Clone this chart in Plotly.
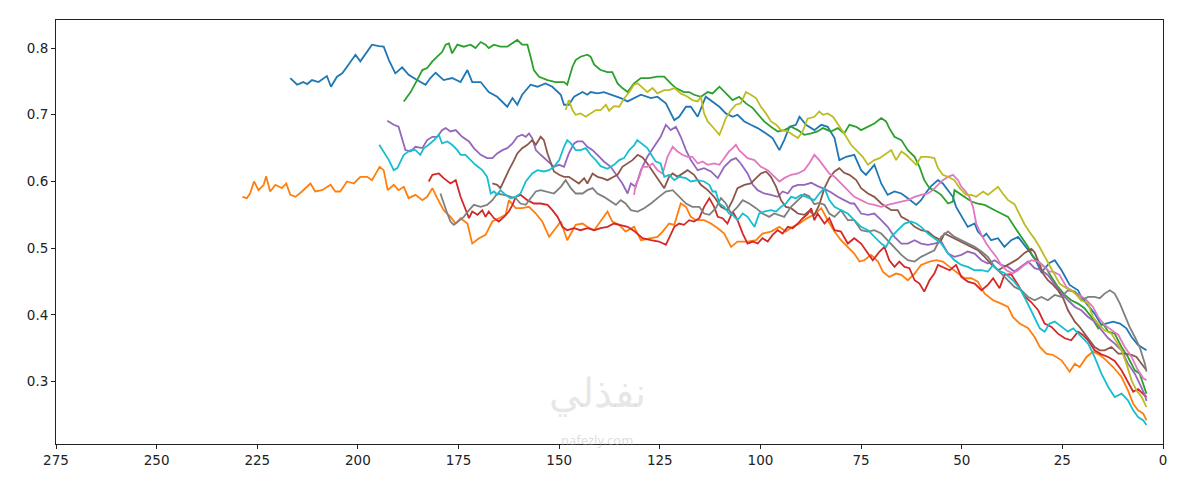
import plotly.graph_objects as go

# ---------------- data ----------------
blue_x = [216.8,215.1,213.6,212.6,211.4,209.8,207.7,206.7,205.2,203.9,
          202.7,200.6,199.4,198.1,196.5,194.8,193.6,192.3,190.7,189.0,
          187.4,185.3,183.2,182.0,180.7,178.7,176.6,174.5,172.8,171.6,
          169.5,167.5,165.4,162.9,161.6,160.4,159.2,157.1,155.4,153.4,
          151.7,149.6,148.8,147.6,146.3,144.2,143.0,142.2,140.5,138.9,
          136.8,134.7,133.0,131.4,129.7,127.2,125.6,123.5,121.4,120.2,
          118.5,117.3,115.6,113.6,111.9,110.2,108.6,106.9,105.7,104.0,
          102.4,100.7,98.6,97.0,95.3,94.1,92.8,91.2,90.3,88.7,
          86.6,84.9,83.3,81.6,80.4,78.7,76.7,75.0,73.8,71.7,
          70.0,68.4,66.7,65.0,63.4,61.3,60.1,58.8,57.6,55.9,
          54.7,53.4,52.2,51.4,50.5,48.5,46.8,46.0,44.7,43.9,
          42.7,41.0,39.4,37.7,36.0,33.5,31.9,30.2,28.2,26.9,
          25.2,23.2,21.1,20.3,18.6,17.0,15.3,14.1,12.4,10.7,
          9.1,7.8,6.2,4.1]
blue_y = [0.755,0.745,0.749,0.746,0.752,0.749,0.758,0.742,0.757,0.762,
          0.772,0.790,0.780,0.792,0.805,0.803,0.802,0.782,0.762,0.771,
          0.760,0.752,0.745,0.755,0.763,0.752,0.755,0.749,0.767,0.749,
          0.749,0.734,0.727,0.712,0.725,0.715,0.730,0.745,0.742,0.747,
          0.742,0.730,0.715,0.715,0.727,0.734,0.730,0.734,0.732,0.734,
          0.730,0.725,0.720,0.725,0.730,0.725,0.727,0.717,0.692,0.697,
          0.712,0.712,0.697,0.727,0.720,0.712,0.702,0.697,0.700,0.690,
          0.685,0.680,0.672,0.665,0.647,0.662,0.682,0.685,0.697,0.685,
          0.677,0.685,0.682,0.665,0.632,0.637,0.640,0.617,0.610,0.625,
          0.597,0.580,0.585,0.582,0.575,0.565,0.572,0.584,0.593,0.602,
          0.597,0.587,0.577,0.562,0.552,0.532,0.537,0.525,0.517,0.522,
          0.512,0.515,0.502,0.512,0.517,0.497,0.485,0.464,0.478,0.482,
          0.467,0.445,0.437,0.427,0.415,0.402,0.385,0.387,0.390,0.387,
          0.380,0.367,0.355,0.347]

orange_x = [228.7,227.6,226.8,225.8,224.7,223.4,222.8,221.8,220.5,218.9,
            217.8,216.8,215.5,213.9,211.8,210.6,208.9,206.8,205.6,204.4,
            202.7,201.0,199.4,197.7,196.5,194.6,193.6,192.6,191.1,189.9,
            188.6,187.4,185.7,184.0,182.8,181.5,180.3,178.7,177.0,175.7,
            174.5,172.8,171.6,169.9,168.3,166.6,165.0,163.3,162.5,160.8,
            159.2,157.5,155.8,154.2,152.5,151.3,149.6,148.0,145.9,144.2,
            143.0,141.3,139.7,138.0,136.8,135.1,133.5,131.4,129.7,127.7,
            125.6,124.3,122.7,121.4,119.8,118.5,117.3,116.0,114.0,112.3,
            110.6,109.0,107.3,105.7,103.2,101.1,99.5,97.4,95.3,93.7,
            92.0,90.3,88.7,86.6,84.9,83.3,81.6,80.0,78.3,76.7,
            75.4,74.2,72.5,70.8,69.6,68.0,66.3,65.0,63.4,61.7,
            60.1,58.0,56.3,54.7,53.0,50.9,49.3,47.6,46.0,44.3,
            42.2,40.2,38.5,37.3,35.6,33.5,31.9,30.6,29.0,27.3,
            25.2,23.2,21.9,20.7,19.0,17.4,15.7,14.1,12.4,10.3,
            8.7,7.4,6.2,4.9,4.1]
orange_y = [0.577,0.575,0.582,0.600,0.587,0.595,0.608,0.585,0.595,0.590,
            0.597,0.580,0.577,0.585,0.597,0.585,0.587,0.595,0.585,0.585,
            0.600,0.597,0.607,0.607,0.602,0.622,0.617,0.587,0.595,0.587,
            0.592,0.575,0.580,0.572,0.577,0.590,0.575,0.557,0.547,0.537,
            0.545,0.537,0.507,0.515,0.520,0.540,0.545,0.550,0.572,0.560,
            0.560,0.562,0.552,0.540,0.517,0.527,0.540,0.512,0.535,0.537,
            0.532,0.527,0.540,0.555,0.540,0.535,0.525,0.532,0.512,0.515,
            0.517,0.525,0.537,0.535,0.567,0.562,0.547,0.542,0.542,0.537,
            0.530,0.522,0.502,0.510,0.510,0.512,0.522,0.525,0.532,0.525,
            0.532,0.537,0.544,0.551,0.560,0.542,0.525,0.512,0.502,0.492,
            0.480,0.482,0.490,0.480,0.465,0.457,0.462,0.460,0.452,0.462,
            0.475,0.480,0.482,0.480,0.472,0.462,0.455,0.455,0.450,0.432,
            0.422,0.417,0.412,0.397,0.387,0.380,0.367,0.352,0.342,0.340,
            0.332,0.315,0.327,0.322,0.337,0.345,0.340,0.332,0.322,0.307,
            0.287,0.267,0.257,0.252,0.242]

green_x = [188.6,186.9,185.3,184.0,182.8,181.5,180.3,179.1,178.2,177.4,
           176.6,175.3,173.7,172.0,170.8,169.5,168.3,167.5,166.2,164.6,
           162.9,161.6,160.4,159.2,157.9,157.1,156.3,155.0,152.9,150.9,
           148.8,148.0,146.7,145.9,144.7,143.0,142.2,141.3,139.7,138.0,
           136.8,135.5,134.3,133.0,131.4,129.7,127.7,125.6,123.9,122.3,
           121.0,119.0,117.7,116.5,114.8,113.1,111.9,110.2,108.6,106.9,
           105.3,103.6,101.9,100.7,99.1,97.4,95.7,94.1,92.4,90.7,
           89.1,87.4,85.8,84.5,82.5,80.8,79.2,77.9,76.2,75.0,
           73.3,71.7,70.0,68.8,68.0,66.7,65.0,63.4,61.7,60.5,
           59.3,58.0,56.3,55.1,53.4,52.2,51.8,50.5,49.3,47.6,
           46.0,44.3,41.8,40.2,38.5,36.9,35.2,33.5,32.3,30.6,
           29.0,27.7,26.1,24.4,22.8,21.1,19.5,17.8,16.1,14.9,
           13.6,12.0,10.3,8.7,7.0,5.8,4.1]
green_y = [0.720,0.734,0.752,0.767,0.770,0.780,0.787,0.794,0.805,0.807,
           0.792,0.805,0.802,0.805,0.800,0.809,0.805,0.800,0.805,0.802,
           0.802,0.807,0.812,0.805,0.805,0.787,0.767,0.757,0.752,0.749,
           0.749,0.745,0.772,0.782,0.787,0.790,0.787,0.775,0.767,0.764,
           0.764,0.747,0.740,0.734,0.747,0.755,0.755,0.757,0.757,0.747,
           0.740,0.734,0.734,0.730,0.727,0.734,0.732,0.742,0.732,0.722,
           0.727,0.717,0.710,0.702,0.690,0.682,0.675,0.677,0.682,0.677,
           0.670,0.672,0.675,0.680,0.675,0.680,0.672,0.685,0.682,0.677,
           0.682,0.687,0.695,0.690,0.680,0.667,0.662,0.647,0.637,0.622,
           0.602,0.590,0.585,0.580,0.567,0.570,0.587,0.582,0.577,0.570,
           0.567,0.565,0.557,0.552,0.547,0.532,0.517,0.502,0.487,0.478,
           0.470,0.457,0.442,0.430,0.422,0.417,0.410,0.397,0.380,0.387,
           0.375,0.372,0.352,0.337,0.317,0.312,0.282]

red_x = [182.4,181.5,179.9,178.7,177.0,175.7,174.5,173.3,172.4,171.6,
         170.3,169.1,168.3,167.5,166.2,165.0,163.7,162.5,161.6,160.8,
         159.6,157.9,156.3,154.6,152.9,151.7,150.4,149.2,148.0,146.3,
         144.7,143.0,141.3,139.7,138.0,136.4,134.7,133.0,131.4,129.3,
         127.2,125.2,123.5,122.3,121.4,120.2,119.0,117.7,116.5,115.2,
         114.0,112.7,111.5,110.6,109.4,108.2,106.9,105.7,104.4,103.2,
         101.9,100.7,99.5,98.2,97.0,95.7,94.5,93.2,92.0,90.7,
         89.5,88.3,87.4,86.6,85.8,84.1,82.9,81.6,80.0,78.3,
         76.7,75.0,73.3,72.1,70.4,69.2,68.0,66.7,65.5,64.2,
         63.0,61.7,60.5,59.3,58.0,56.8,55.9,54.7,53.0,51.4,
         50.1,48.5,46.8,45.1,43.5,42.2,40.6,39.4,37.7,36.0,
         34.4,32.7,31.0,29.4,27.7,26.1,24.4,22.8,21.1,19.9,
         18.6,17.0,15.3,13.6,12.0,10.3,8.7,7.4,6.2,4.9,4.1]
red_y = [0.600,0.610,0.612,0.605,0.597,0.602,0.577,0.557,0.545,0.555,
         0.550,0.557,0.547,0.555,0.545,0.540,0.547,0.555,0.565,0.577,
         0.580,0.572,0.567,0.567,0.565,0.557,0.547,0.532,0.527,0.530,
         0.527,0.530,0.527,0.530,0.532,0.537,0.535,0.532,0.526,0.515,
         0.512,0.510,0.505,0.520,0.532,0.537,0.535,0.542,0.540,0.545,
         0.562,0.575,0.562,0.547,0.545,0.537,0.555,0.542,0.522,0.507,
         0.510,0.507,0.515,0.510,0.520,0.527,0.522,0.532,0.530,0.537,
         0.545,0.551,0.560,0.542,0.552,0.537,0.545,0.527,0.525,0.507,
         0.515,0.507,0.492,0.482,0.495,0.502,0.482,0.472,0.480,0.472,
         0.470,0.452,0.447,0.435,0.452,0.462,0.475,0.472,0.467,0.475,
         0.457,0.450,0.447,0.437,0.445,0.455,0.440,0.460,0.461,0.445,
         0.428,0.419,0.407,0.387,0.382,0.372,0.365,0.362,0.375,0.370,
         0.362,0.347,0.341,0.337,0.331,0.317,0.299,0.285,0.289,0.282,0.277]

purple_x = [192.7,191.1,189.9,189.0,188.2,186.9,185.7,184.0,182.8,181.5,
            180.3,179.1,178.2,177.0,175.7,174.1,172.4,171.2,169.5,167.9,
            166.6,165.4,164.1,162.9,161.6,160.4,159.2,158.3,157.5,156.7,
            155.8,154.6,152.9,151.3,150.0,148.8,147.6,146.3,145.5,144.2,
            143.0,141.7,140.5,138.9,137.2,135.5,134.3,133.0,132.2,131.0,
            129.7,128.1,126.4,124.8,123.5,122.3,121.0,119.8,118.5,117.3,
            115.6,114.0,112.3,110.6,109.0,107.3,106.1,104.9,103.2,101.9,
            100.7,99.1,97.4,95.7,94.5,93.2,92.0,90.7,89.1,87.4,
            85.8,84.1,82.5,80.8,79.2,77.5,76.7,75.0,73.3,71.7,
            70.0,68.4,66.7,65.0,63.4,61.7,60.1,58.4,56.8,55.1,
            53.4,51.8,50.1,48.5,46.8,45.1,43.5,41.8,40.2,38.5,
            36.9,35.2,33.5,31.9,30.2,28.6,26.9,25.2,23.6,21.9,
            20.3,18.6,17.0,15.3,13.6,12.0,10.3,8.7,7.0,5.8,4.5,4.1]
purple_y = [0.691,0.685,0.682,0.665,0.647,0.645,0.652,0.650,0.662,0.667,
            0.667,0.677,0.680,0.675,0.677,0.667,0.660,0.650,0.640,0.635,
            0.635,0.642,0.647,0.650,0.657,0.667,0.670,0.667,0.672,0.665,
            0.647,0.640,0.630,0.622,0.625,0.622,0.642,0.657,0.660,0.660,
            0.652,0.647,0.640,0.630,0.622,0.607,0.597,0.582,0.597,0.592,
            0.617,0.637,0.652,0.667,0.685,0.677,0.682,0.667,0.647,0.632,
            0.617,0.620,0.615,0.605,0.622,0.632,0.635,0.627,0.612,0.595,
            0.587,0.582,0.580,0.577,0.585,0.582,0.592,0.595,0.595,0.598,
            0.593,0.589,0.584,0.577,0.572,0.567,0.567,0.552,0.550,0.552,
            0.542,0.532,0.517,0.507,0.507,0.512,0.507,0.505,0.507,0.510,
            0.492,0.487,0.490,0.495,0.492,0.482,0.477,0.482,0.475,0.472,
            0.465,0.472,0.480,0.470,0.467,0.460,0.445,0.432,0.422,0.412,
            0.407,0.397,0.390,0.377,0.365,0.357,0.347,0.327,0.312,0.297,0.280,0.271]

brown_x = [166.6,165.4,164.6,163.7,162.5,161.2,160.4,159.2,157.9,156.7,
           155.8,154.6,153.8,152.9,152.1,151.3,150.0,148.8,147.6,146.3,
           145.1,143.8,143.0,141.7,140.5,139.3,138.0,136.8,135.5,134.3,
           133.0,131.8,130.5,129.3,128.1,126.4,125.2,123.9,122.7,121.8,
           120.6,119.4,118.1,116.5,114.8,113.1,111.5,109.8,108.2,106.9,
           105.7,104.0,102.4,101.1,99.9,98.6,97.4,96.1,94.9,93.7,
           92.4,90.7,89.1,87.9,86.6,85.4,84.1,82.9,81.6,80.4,
           79.2,77.9,76.2,75.0,73.3,71.7,70.0,68.8,67.5,65.9,
           65.0,63.4,61.7,60.1,58.4,56.8,55.1,54.3,52.6,50.9,
           49.3,47.6,46.0,44.3,42.7,41.0,39.4,37.7,36.0,34.4,
           32.7,31.9,30.6,29.8,28.6,27.3,26.1,24.8,23.6,21.9,
           20.7,19.5,18.2,17.0,15.7,14.5,12.8,11.1,9.5,7.8,6.6,5.3,4.1]
brown_y = [0.597,0.595,0.590,0.602,0.617,0.632,0.642,0.650,0.655,0.662,
           0.655,0.667,0.662,0.642,0.627,0.615,0.610,0.607,0.607,0.602,
           0.597,0.605,0.597,0.612,0.607,0.605,0.602,0.606,0.610,0.622,
           0.627,0.632,0.640,0.636,0.627,0.612,0.600,0.590,0.607,0.612,
           0.607,0.612,0.617,0.610,0.595,0.587,0.577,0.562,0.557,0.572,
           0.590,0.595,0.597,0.605,0.612,0.615,0.607,0.592,0.572,0.562,
           0.560,0.552,0.550,0.556,0.550,0.565,0.590,0.605,0.615,0.620,
           0.613,0.610,0.602,0.590,0.582,0.577,0.567,0.562,0.557,0.557,
           0.547,0.542,0.532,0.527,0.525,0.517,0.512,0.522,0.517,0.512,
           0.507,0.502,0.497,0.487,0.476,0.467,0.472,0.478,0.484,0.493,
           0.499,0.494,0.475,0.462,0.452,0.445,0.437,0.425,0.407,0.390,
           0.382,0.372,0.362,0.352,0.347,0.347,0.352,0.342,0.342,0.340,0.337,0.327,0.317]

pink_x = [131.4,131.0,130.1,129.3,128.1,126.8,125.6,124.3,123.1,121.8,
          120.6,119.4,118.1,116.9,115.6,114.4,113.1,111.5,110.2,109.0,
          107.8,106.9,106.1,105.3,104.4,103.2,101.5,99.9,98.2,96.6,
          95.3,94.1,92.4,90.7,89.1,87.9,86.6,85.4,84.1,82.9,
          81.6,80.0,78.3,76.7,75.0,73.3,71.7,70.0,68.4,66.7,
          65.0,63.4,61.7,60.1,58.4,57.2,55.9,54.7,53.4,52.2,
          50.9,50.1,49.3,48.1,47.2,46.4,45.1,43.9,42.7,41.4,
          40.2,38.9,37.3,36.0,34.4,32.7,31.0,29.4,28.2,27.3,
          25.7,24.0,22.3,20.7,19.0,17.4,16.1,14.5,12.8,11.1,9.5,7.8,6.2,4.9,4.1]
pink_y = [0.580,0.595,0.607,0.622,0.622,0.627,0.617,0.612,0.637,0.652,
          0.645,0.640,0.637,0.637,0.627,0.630,0.625,0.627,0.625,0.635,
          0.645,0.650,0.655,0.647,0.642,0.635,0.632,0.622,0.617,0.607,
          0.600,0.605,0.610,0.612,0.617,0.627,0.640,0.632,0.622,0.612,
          0.607,0.597,0.587,0.577,0.572,0.567,0.565,0.562,0.565,0.567,
          0.570,0.572,0.577,0.580,0.582,0.587,0.595,0.602,0.607,0.610,
          0.602,0.592,0.587,0.577,0.562,0.537,0.520,0.507,0.497,0.487,
          0.475,0.467,0.462,0.467,0.475,0.482,0.480,0.472,0.465,0.465,
          0.460,0.442,0.435,0.430,0.422,0.412,0.397,0.385,0.377,0.370,0.352,0.337,0.317,0.305,0.302]

gray_x = [179.5,178.7,177.8,177.0,176.2,174.9,173.7,172.4,171.2,169.5,
          167.9,166.6,165.4,163.7,162.1,160.8,159.6,158.3,157.1,155.8,
          154.6,152.9,151.3,149.6,148.4,147.1,145.9,144.2,143.0,141.7,
          140.5,138.9,137.6,135.9,134.7,133.5,132.2,130.5,128.9,127.2,
          125.2,123.5,121.8,120.2,118.5,116.9,115.2,114.0,112.7,111.1,
          109.8,108.6,107.3,105.7,104.4,102.8,101.1,99.5,97.8,96.6,
          95.3,94.1,92.4,90.7,89.1,87.9,86.6,85.4,84.1,82.9,
          81.6,80.0,78.3,76.7,75.0,73.3,71.7,70.0,68.4,66.7,
          65.0,63.4,61.7,60.1,58.4,56.8,55.1,53.4,51.8,50.1,
          48.5,46.8,45.1,43.5,41.8,40.2,38.5,36.9,35.2,33.5,
          31.9,30.2,28.6,26.9,25.2,23.6,21.9,20.3,18.6,17.0,
          15.7,14.5,13.2,12.0,10.7,9.5,8.3,7.0,5.8,4.5,4.1]
gray_y = [0.582,0.567,0.552,0.540,0.535,0.541,0.547,0.557,0.565,0.562,
          0.565,0.572,0.582,0.580,0.577,0.575,0.567,0.565,0.575,0.585,
          0.587,0.585,0.582,0.592,0.602,0.590,0.582,0.582,0.587,0.590,
          0.582,0.577,0.572,0.565,0.572,0.567,0.557,0.555,0.560,0.567,
          0.577,0.585,0.587,0.577,0.567,0.562,0.562,0.552,0.550,0.560,
          0.575,0.567,0.552,0.562,0.572,0.567,0.560,0.552,0.547,0.552,
          0.550,0.547,0.562,0.572,0.581,0.578,0.566,0.568,0.565,0.552,
          0.547,0.557,0.542,0.542,0.527,0.525,0.527,0.522,0.512,0.502,
          0.490,0.482,0.480,0.487,0.492,0.497,0.517,0.525,0.517,0.512,
          0.507,0.502,0.495,0.487,0.472,0.462,0.452,0.442,0.437,0.427,
          0.422,0.427,0.422,0.430,0.427,0.437,0.435,0.422,0.427,0.427,
          0.425,0.432,0.437,0.432,0.417,0.400,0.382,0.367,0.352,0.327,0.315]

olive_x = [148.4,147.6,146.7,145.9,144.7,143.4,142.2,140.9,139.7,138.4,
           137.6,136.4,135.1,133.9,132.6,131.4,130.5,129.3,128.1,126.8,
           125.6,123.9,122.7,121.4,119.8,118.1,116.9,115.6,114.8,114.0,
           113.1,111.9,111.1,110.2,109.4,108.6,107.3,106.1,104.9,103.6,
           102.4,101.1,99.9,98.6,97.4,96.1,94.9,93.2,92.0,90.7,
           89.5,88.3,86.6,85.4,84.5,83.3,82.0,80.8,79.2,77.5,
           75.8,74.6,73.3,71.7,70.4,69.2,67.5,66.3,65.0,63.8,
           62.6,61.3,60.1,58.4,56.8,55.9,54.7,53.4,51.8,50.5,
           48.9,47.6,46.4,44.7,43.5,42.2,41.0,39.8,38.5,36.9,
           35.6,34.4,33.1,31.9,30.6,29.4,28.2,26.9,25.7,24.0,
           22.8,21.5,20.3,18.6,17.4,16.1,14.5,12.8,11.6,10.3,9.1,7.8,6.6,5.3,4.1]
olive_y = [0.707,0.722,0.707,0.700,0.702,0.697,0.702,0.707,0.707,0.715,
           0.706,0.713,0.712,0.724,0.734,0.745,0.747,0.740,0.734,0.740,
           0.732,0.737,0.737,0.740,0.732,0.727,0.722,0.720,0.727,0.702,
           0.690,0.682,0.677,0.670,0.682,0.695,0.707,0.715,0.717,0.734,
           0.730,0.725,0.712,0.702,0.690,0.685,0.677,0.675,0.670,0.665,
           0.675,0.694,0.697,0.705,0.700,0.702,0.697,0.687,0.672,0.655,
           0.645,0.637,0.625,0.632,0.635,0.640,0.647,0.632,0.645,0.640,
           0.632,0.625,0.637,0.637,0.635,0.620,0.610,0.607,0.602,0.590,
           0.580,0.580,0.577,0.585,0.580,0.587,0.592,0.582,0.572,0.566,
           0.550,0.536,0.524,0.514,0.501,0.488,0.476,0.460,0.447,0.440,
           0.437,0.430,0.422,0.417,0.397,0.387,0.377,0.372,0.360,0.347,0.327,0.302,0.287,0.277,0.262]

cyan_x = [194.7,193.6,192.3,191.1,190.2,189.4,188.6,186.9,185.7,184.5,
          183.6,182.4,181.1,179.9,179.1,177.8,176.6,175.3,174.5,173.3,
          172.0,170.8,169.1,167.9,167.0,166.2,165.4,164.6,163.3,162.1,
          160.8,159.6,158.3,156.7,155.4,153.8,152.5,151.3,150.0,148.8,
          148.0,147.1,145.9,144.7,143.4,142.2,140.9,139.7,138.0,136.4,
          135.1,133.9,132.6,131.4,130.6,129.3,128.1,126.8,126.0,124.8,
          123.9,122.7,121.4,120.2,118.5,117.3,115.6,114.0,112.7,111.9,
          111.1,110.2,109.0,107.8,106.9,105.7,104.4,103.2,101.5,100.3,
          99.1,97.4,96.1,94.9,93.7,92.4,91.2,89.9,88.3,86.6,
          85.4,84.1,82.9,81.6,80.0,78.3,76.7,75.0,73.3,71.7,
          70.0,68.8,67.5,65.9,64.2,62.6,61.3,60.1,58.4,56.8,
          55.1,53.4,51.8,50.1,48.5,46.8,45.1,43.5,42.2,41.0,
          39.4,37.3,35.6,34.0,32.3,30.6,29.4,28.2,26.9,25.2,
          23.6,22.3,20.3,18.6,17.0,15.3,13.6,12.0,10.3,8.7,7.4,6.2,4.9,4.1]
cyan_y = [0.655,0.645,0.632,0.617,0.620,0.630,0.640,0.647,0.647,0.640,
          0.650,0.655,0.662,0.670,0.657,0.660,0.655,0.647,0.640,0.640,
          0.632,0.625,0.617,0.607,0.582,0.585,0.580,0.587,0.580,0.575,
          0.577,0.582,0.600,0.612,0.617,0.615,0.617,0.622,0.632,0.652,
          0.662,0.657,0.647,0.647,0.650,0.640,0.632,0.623,0.619,0.625,
          0.632,0.635,0.647,0.654,0.662,0.655,0.650,0.637,0.630,0.627,
          0.607,0.610,0.602,0.607,0.605,0.600,0.602,0.600,0.595,0.585,
          0.585,0.567,0.562,0.552,0.550,0.542,0.552,0.547,0.532,0.552,
          0.555,0.557,0.555,0.562,0.567,0.577,0.575,0.580,0.576,0.572,
          0.582,0.590,0.572,0.562,0.557,0.552,0.542,0.532,0.527,0.517,
          0.507,0.502,0.517,0.527,0.537,0.540,0.537,0.532,0.522,0.515,
          0.507,0.492,0.482,0.475,0.472,0.467,0.467,0.465,0.475,0.467,
          0.463,0.452,0.440,0.422,0.402,0.380,0.375,0.387,0.390,0.382,
          0.375,0.380,0.367,0.357,0.337,0.312,0.292,0.277,0.282,0.272,0.257,0.247,0.242,0.235]

x_ticks = [275, 250, 225, 200, 175, 150, 125, 100, 75, 50, 25, 0]
y_ticks = [0.3, 0.4, 0.5, 0.6, 0.7, 0.8]

series = [
    (blue_x, blue_y, "#1f77b4"),
    (orange_x, orange_y, "#ff7f0e"),
    (green_x, green_y, "#2ca02c"),
    (red_x, red_y, "#d62728"),
    (purple_x, purple_y, "#9467bd"),
    (brown_x, brown_y, "#8c564b"),
    (pink_x, pink_y, "#e377c2"),
    (gray_x, gray_y, "#7f7f7f"),
    (olive_x, olive_y, "#bcbd22"),
    (cyan_x, cyan_y, "#17becf"),
]

fig = go.Figure()
for xs, ys, col in series:
    assert len(xs) == len(ys), (len(xs), len(ys), col)
    fig.add_trace(go.Scatter(x=xs, y=ys, mode="lines",
                             line=dict(color=col, width=1.8),
                             showlegend=False, hoverinfo="skip"))

axis_font = dict(family="DejaVu Sans", size=13.5, color="#222222")
fig.update_layout(
    width=1196, height=484,
    margin=dict(l=48, r=41, t=12, b=48),
    paper_bgcolor="white", plot_bgcolor="white",
    font=axis_font,
    xaxis=dict(range=[275, 0], tickvals=x_ticks,
               ticktext=[str(v) for v in x_ticks],
               ticks="outside", ticklen=4, tickwidth=1, tickcolor="#222",
               showline=True, linecolor="#222", linewidth=1, mirror=True,
               showgrid=False, zeroline=False, tickfont=axis_font),
    yaxis=dict(range=[0.2066, 0.842], tickvals=y_ticks,
               ticktext=["0.3", "0.4", "0.5", "0.6", "0.7", "0.8"],
               ticks="outside", ticklen=4, tickwidth=1, tickcolor="#222",
               showline=True, linecolor="#222", linewidth=1, mirror=True,
               showgrid=False, zeroline=False, tickfont=axis_font),
)

# faint watermark seen in the reference (kept inside the plot area)
fig.add_annotation(text="نفذلي", xref="paper", yref="paper", x=0.489, y=0.125,
                   yanchor="middle", showarrow=False,
                   font=dict(family="Noto Sans", size=40, color="rgba(170,170,170,0.30)"))
fig.add_annotation(text="nafezly.com", xref="paper", yref="paper", x=0.489, y=0.036,
                   yanchor="top", showarrow=False,
                   font=dict(family="Noto Sans", size=13, color="rgba(170,170,170,0.40)"))

fig.write_html("out.html")
